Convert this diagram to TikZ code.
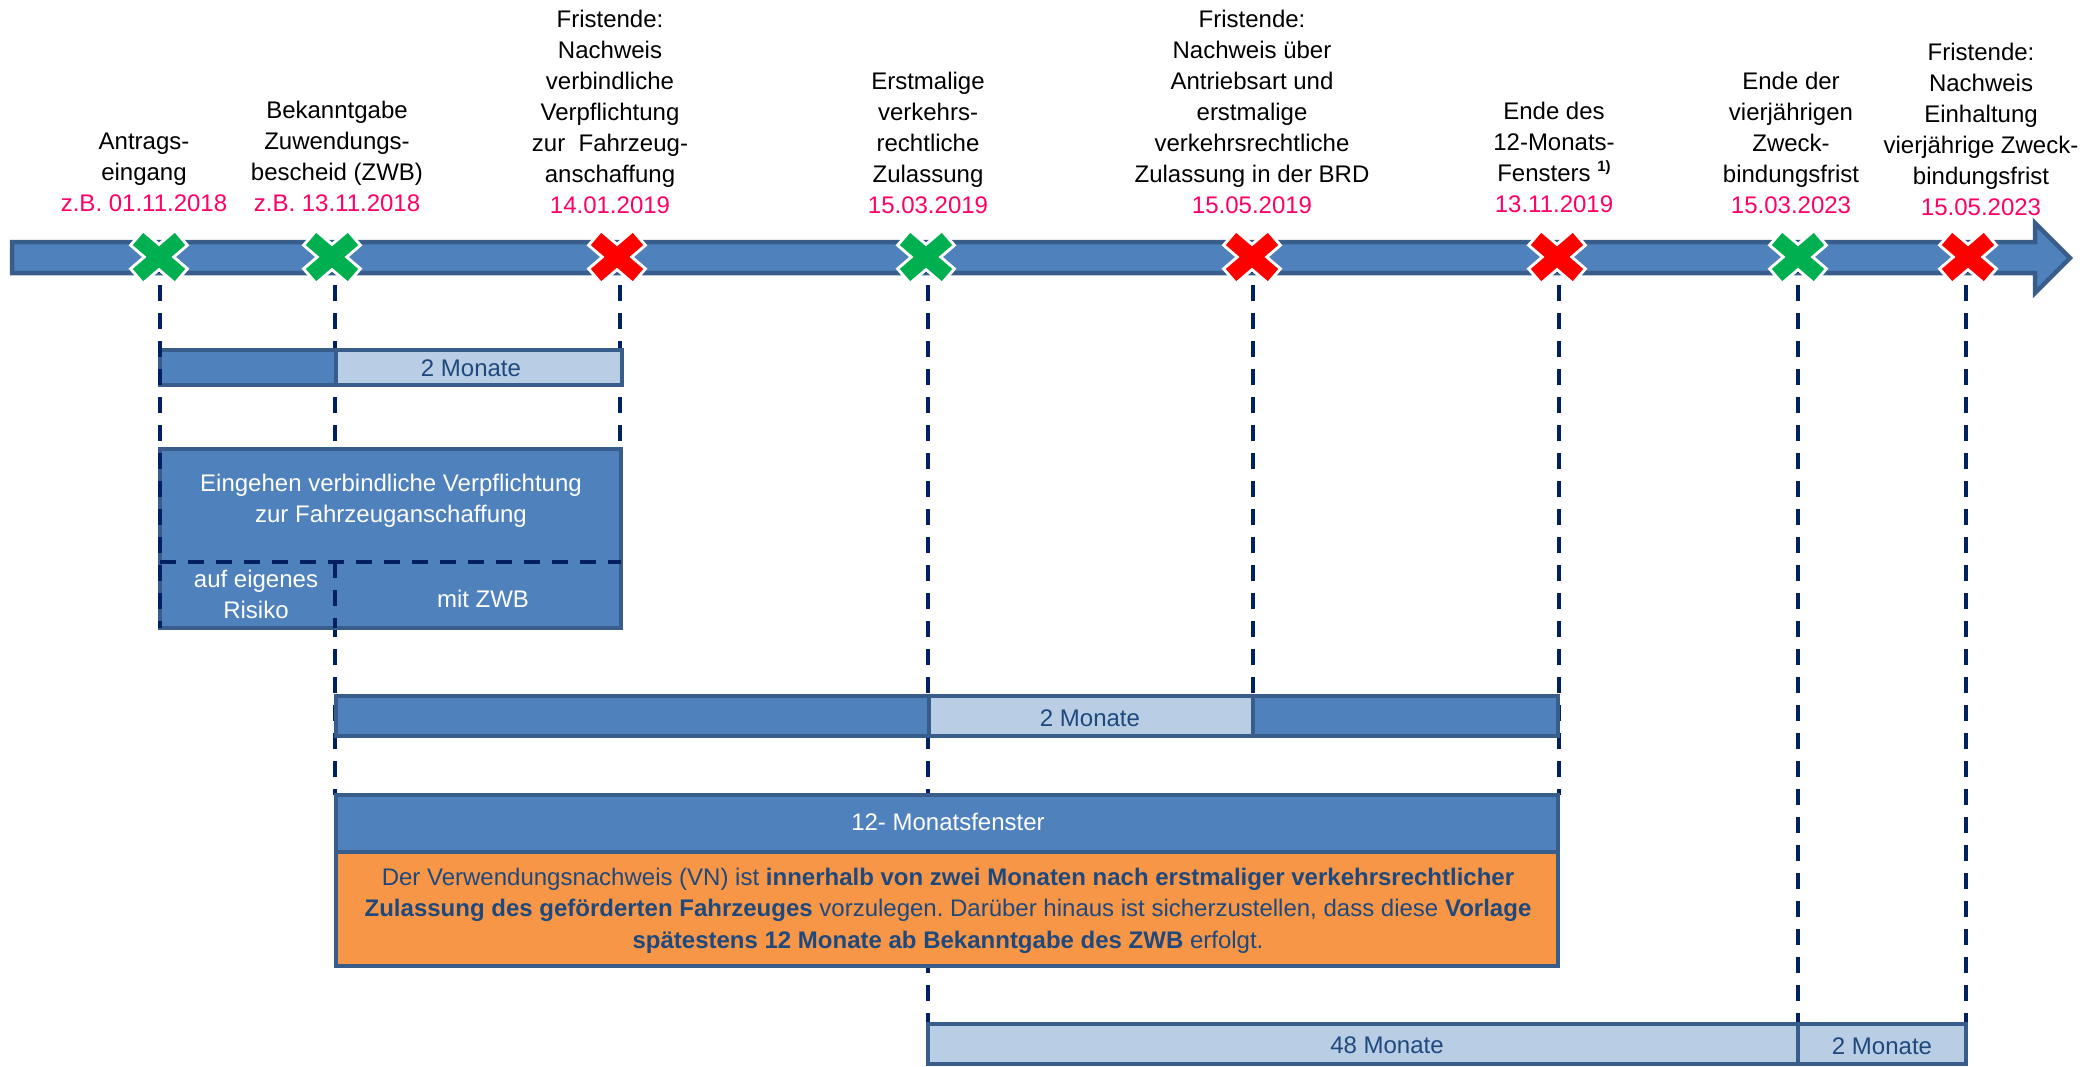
\documentclass[tikz,border=0pt]{standalone}
\usepackage{fontspec}
\setmainfont{Liberation Sans}
\usetikzlibrary{calc}
\frenchspacing
\definecolor{bluefill}{HTML}{4F81BD}
\definecolor{blueline}{HTML}{385D8A}
\definecolor{lightfill}{HTML}{B9CDE5}
\definecolor{orangefill}{HTML}{F79646}
\definecolor{navy}{HTML}{002060}
\definecolor{pinkdate}{HTML}{FF0066}
\definecolor{textblue}{HTML}{1F497D}
\definecolor{xgreen}{HTML}{00B050}
\definecolor{xred}{HTML}{FF0000}
\newcommand\mlines[1]{\begin{tabular}[b]{@{}c@{}}#1\end{tabular}}
\newcommand\pk[1]{\textcolor{pinkdate}{#1}}
\newcommand\crossat[2]{%
  \draw[white, line width=22pt, shorten <=-3pt, shorten >=-3pt] (#1-21,239)--(#1+21,275);
  \draw[white, line width=22pt, shorten <=-3pt, shorten >=-3pt] (#1-21,275)--(#1+21,239);
  \draw[#2, line width=16pt] (#1-21,239)--(#1+21,275);
  \draw[#2, line width=16pt] (#1-21,275)--(#1+21,239);}
\tikzset{
  seg/.style={draw=blueline, line width=4.5pt, inner sep=0pt, outer sep=0pt, anchor=north west},
  vdash/.style={draw=navy, line width=4pt, dash pattern=on 16pt off 12pt},
  lbl/.style={anchor=base, inner sep=0pt, text=black, font={\fontsize{24}{31}\selectfont}},
  wtxt/.style={text=white, inner sep=0pt, font={\fontsize{24}{31}\selectfont}},
  btxt/.style={text=textblue, inner sep=0pt, font={\fontsize{24}{31}\selectfont}},
}
\begin{document}
\begin{tikzpicture}[x=1pt,y=-1pt]
\useasboundingbox (0,0) rectangle (2091,1066);
% timeline arrow
\draw[draw=blueline, fill=bluefill, line width=4.5pt, line join=miter]
  (12,242) -- (2035,242) -- (2035,223) -- (2070,258) -- (2035,293) -- (2035,273) -- (12,273) -- cycle;
% marker coordinates
\coordinate (m1) at (160,257);
\coordinate (m2) at (335,257);
\coordinate (m3) at (620,257);
\coordinate (m4) at (928,257);
\coordinate (m5) at (1253,257);
\coordinate (m6) at (1559,257);
\coordinate (m7) at (1798,257);
\coordinate (m8) at (1966,257);
% boxes (first pass, used as named targets)
\node[seg, fill=bluefill, minimum width=176, minimum height=35] (b1a) at (160,350) {};
\node[seg, fill=lightfill, minimum width=286, minimum height=35] (b1b) at (336,350) {};
\node[seg, fill=bluefill, minimum width=461, minimum height=179] (eg) at (160,449) {};
\node[seg, fill=bluefill, minimum width=593, minimum height=40] (b2a) at (336,696) {};
\node[seg, fill=lightfill, minimum width=324, minimum height=40] (b2b) at (929,696) {};
\node[seg, fill=bluefill, minimum width=305, minimum height=40] (b2c) at (1253,696) {};
\node[seg, fill=bluefill, minimum width=1222, minimum height=57] (tw) at (336,795) {};
\node[seg, fill=orangefill, minimum width=1222, minimum height=114] (vn) at (336,852) {};
\node[seg, fill=lightfill, minimum width=870, minimum height=40] (b3a) at (928,1024) {};
\node[seg, fill=lightfill, minimum width=168, minimum height=40] (b3b) at (1798,1024) {};
% dashed guide lines (behind the boxes)
\draw[vdash] (m2) -- (m2 |- tw.north);
\draw[vdash] (m3) -- (m3 |- eg.north);
\draw[vdash] (m4) -- (m4 |- b3a.north);
\draw[vdash] (m5) -- (m5 |- b2b.north);
\draw[vdash] (m6) -- (m6 |- tw.north);
\draw[vdash] (m7) -- (m7 |- b3a.north);
\draw[vdash] (m8) -- (m8 |- b3b.north);
% boxes drawn again over the guide lines
\node[seg, fill=bluefill, minimum width=176, minimum height=35] at (160,350) {};
\node[seg, fill=lightfill, minimum width=286, minimum height=35] at (336,350) {};
\node[btxt] (b1t) at (471,368) {2 Monate};
\node[seg, fill=bluefill, minimum width=461, minimum height=179] at (160,449) {};
\node[seg, fill=bluefill, minimum width=593, minimum height=40] at (336,696) {};
\node[seg, fill=lightfill, minimum width=324, minimum height=40] at (929,696) {};
\node[seg, fill=bluefill, minimum width=305, minimum height=40] at (1253,696) {};
\node[btxt, anchor=base] (b2t) at (1090,726) {2 Monate};
\node[seg, fill=bluefill, minimum width=1222, minimum height=57] at (336,795) {};
\node[wtxt] (twt) at (948,822) {12- Monatsfenster};
\node[seg, fill=orangefill, minimum width=1222, minimum height=114] at (336,852) {};
\node[seg, fill=lightfill, minimum width=870, minimum height=40] at (928,1024) {};
\node[seg, fill=lightfill, minimum width=168, minimum height=40] at (1798,1024) {};
\node[btxt] (b3at) at (1387,1045) {48 Monate};
\node[btxt] (b3bt) at (1882,1046) {2 Monate};
% Eingehen box texts and dividers
\node[wtxt, anchor=base] (egt) at (391,522) {\mlines{Eingehen verbindliche Verpflichtung\\zur Fahrzeuganschaffung}};
\coordinate (egm) at (160,562);
\draw[vdash] (egm) -- (egm -| eg.east);
\draw[vdash] (m2 |- egm) -- (m2 |- eg.south);
\draw[vdash] (m1) -- (m1 |- eg.south);
\node[wtxt, anchor=base] (egl) at (256,618) {\mlines{auf eigenes\\Risiko}};
\node[wtxt, anchor=base] (egr) at (483,607) {mit ZWB};
% orange text
\node[anchor=base, inner sep=0pt, text=textblue, font={\fontsize{24}{31.5}\selectfont}] (vnt) at (948,948) {\mlines{Der Verwendungsnachweis (VN) ist \textbf{innerhalb von zwei Monaten nach erstmaliger verkehrsrechtlicher}\\ \textbf{Zulassung des geförderten Fahrzeuges} vorzulegen. Darüber hinaus ist sicherzustellen, dass diese \textbf{Vorlage}\\ \textbf{spätestens 12 Monate ab Bekanntgabe des ZWB} erfolgt.}};
% markers
\crossat{159}{xgreen}
\crossat{332}{xgreen}
\crossat{617}{xred}
\crossat{926}{xgreen}
\crossat{1252}{xred}
\crossat{1557}{xred}
\crossat{1798}{xgreen}
\crossat{1968}{xred}
% top labels
\node[lbl] (l1) at (144,211) {\mlines{Antrags-\\eingang\\\pk{z.B. 01.11.2018}}};
\node[lbl] (l2) at (337,211) {\mlines{Bekanntgabe\\Zuwendungs-\\bescheid (ZWB)\\\pk{z.B. 13.11.2018}}};
\node[lbl] (l3) at (610,213) {\mlines{Fristende:\\Nachweis\\verbindliche\\Verpflichtung\\zur\ \ Fahrzeug-\\anschaffung\\\pk{14.01.2019}}};
\node[lbl] (l4) at (928,213) {\mlines{Erstmalige\\verkehrs-\\rechtliche\\Zulassung\\\pk{15.03.2019}}};
\node[lbl] (l5) at (1252,213) {\mlines{Fristende:\\Nachweis über\\Antriebsart und\\erstmalige\\verkehrsrechtliche\\Zulassung in der BRD\\\pk{15.05.2019}}};
\node[lbl] (l6) at (1554,212) {\mlines{Ende des\\12-Monats-\\Fensters \raisebox{10pt}{\fontsize{15}{15}\selectfont\bfseries 1)}\\\pk{13.11.2019}}};
\node[lbl] (l7) at (1791,213) {\mlines{Ende der\\vierjährigen\\Zweck-\\bindungsfrist\\\pk{15.03.2023}}};
\node[lbl] (l8) at (1981,215) {\mlines{Fristende:\\Nachweis\\Einhaltung\\vierjährige Zweck-\\bindungsfrist\\\pk{15.05.2023}}};
\end{tikzpicture}
\end{document}
